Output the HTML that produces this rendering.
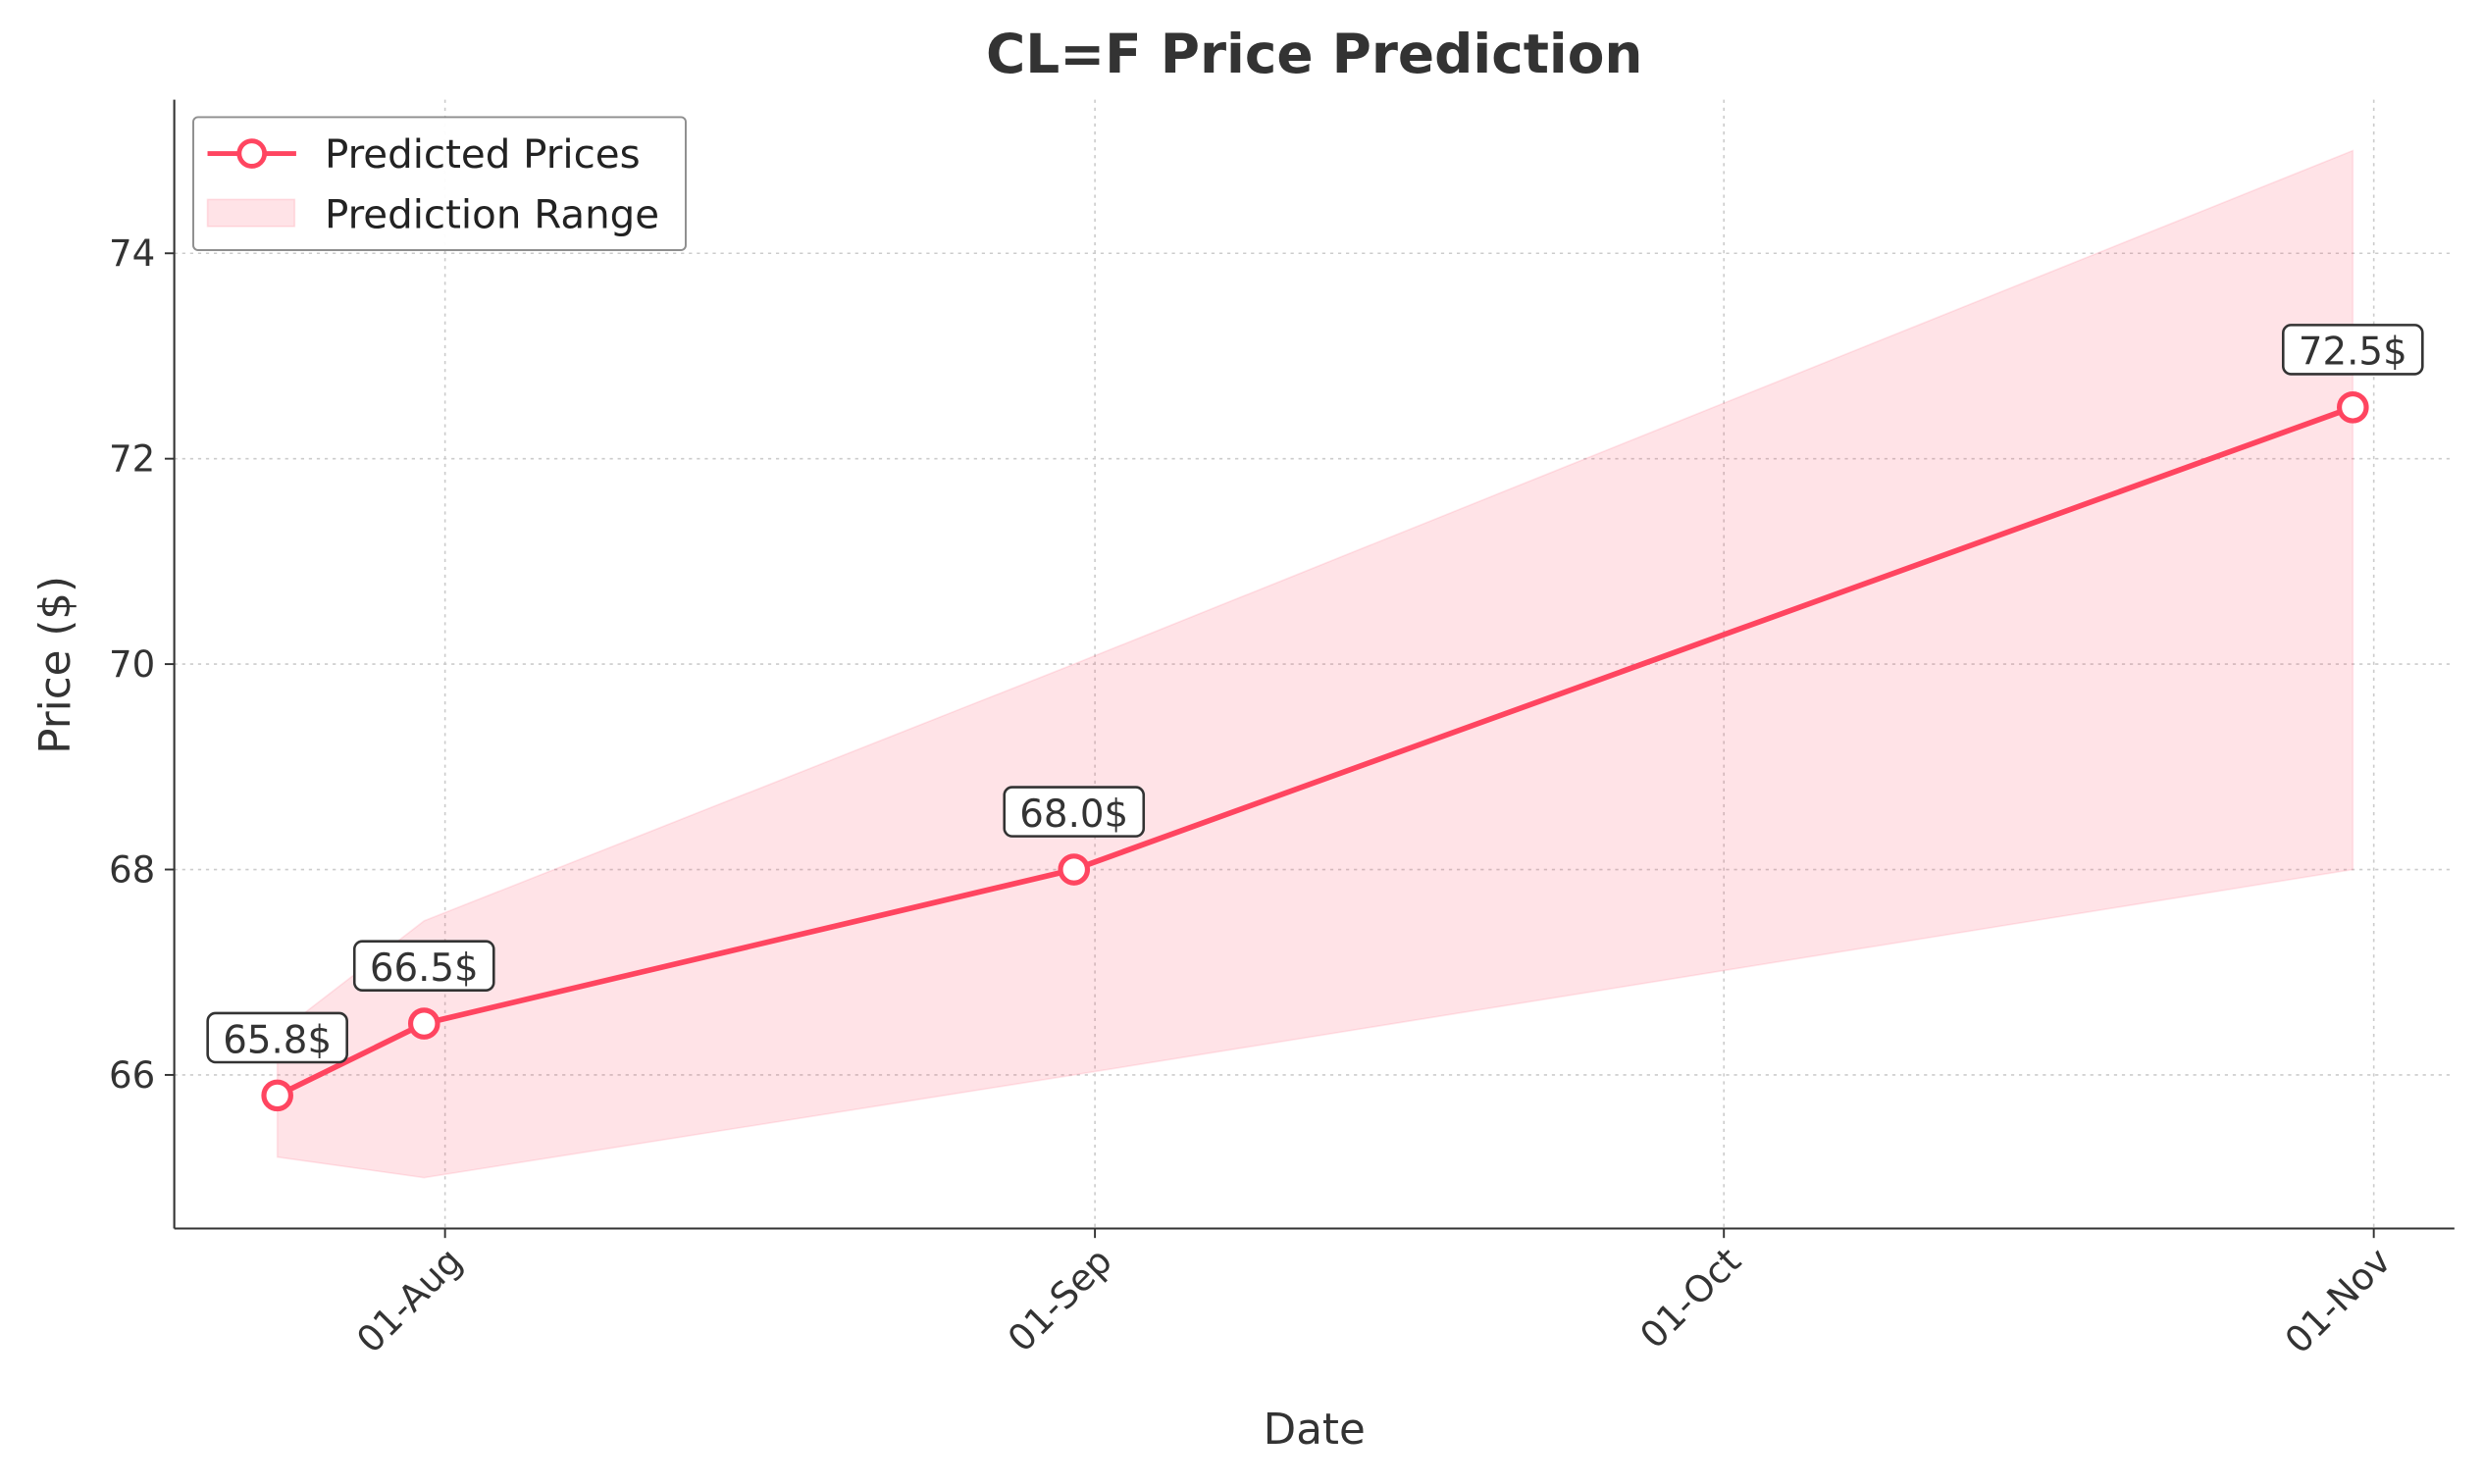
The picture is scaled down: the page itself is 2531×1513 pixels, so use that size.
<!DOCTYPE html>
<html><head><meta charset="utf-8"><style>
html,body{margin:0;padding:0;background:#fff;}
svg{display:block;font-family:"DejaVu Sans","Liberation Sans",sans-serif;}
</style></head><body>
<svg id="chart" width="2531" height="1513" viewBox="0 0 1568 937.4" xmlns="http://www.w3.org/2000/svg">
<rect width="1568" height="937.4" fill="#fff"/>
<text x="830" y="46" text-anchor="middle" font-size="34" font-weight="bold" fill="#333">CL=F Price Prediction</text>
<g id="grid"></g>
<g id="band"></g>
<g id="series"></g>
<g id="axes">
<line x1="110" y1="63" x2="110" y2="776" stroke="#333" stroke-width="1.3"/>
<line x1="110" y1="776" x2="1550" y2="776" stroke="#333" stroke-width="1.3"/>
</g>
<g id="ticks"></g>
<text x="830" y="912" text-anchor="middle" font-size="27" fill="#333">Date</text>
<text transform="translate(44,420) rotate(-90)" text-anchor="middle" font-size="27" fill="#333">Price ($)</text>
<g>
<rect x="122" y="74" width="311" height="84" rx="3" fill="#fff" stroke="#888" stroke-width="1.2" opacity="0.95"/>
<g>
<line x1="131" y1="97" x2="187" y2="97" stroke="#ff4560" stroke-width="3"/>
<circle cx="159" cy="97" r="8" fill="#fff" stroke="#ff4560" stroke-width="3"/>
<text x="205" y="106" font-size="25" fill="#222">Predicted Prices</text>
</g>
<g>
<rect x="131" y="126" width="55" height="17" fill="#ff4560" fill-opacity="0.15" stroke="#ff4560" stroke-opacity="0.15"/>
<text x="205" y="144" font-size="25" fill="#222">Prediction Range</text>
</g>
</g>
<g id="labels"></g>
</svg>
<script>
// day offsets from 01-Jul
const dates = [23, 30, 61, 122];
const predicted = [65.8, 66.5, 68.0, 72.5];
const lower = [65.2, 65.0, 66.0, 68.0];
const upper = [66.4, 67.5, 70.0, 75.0];
const yTicks = [66, 68, 70, 72, 74];
const xTickDays = [31, 62, 92, 123];
const xTickLabels = ["01-Aug", "01-Sep", "01-Oct", "01-Nov"];

const NS = "http://www.w3.org/2000/svg";
function xs(d){ return 281 + (d - 31) * 13.24; }
function ys(v){ return 679 - (v - 66) * 64.875; }
function mk(tag, attrs, parent){
  const e = document.createElementNS(NS, tag);
  for (const k in attrs) e.setAttribute(k, attrs[k]);
  parent.appendChild(e); return e;
}
const grid = document.getElementById('grid');
const ticks = document.getElementById('ticks');
yTicks.forEach(v=>{
  const g = mk('line',{x1:110,x2:1550,y1:ys(v),y2:ys(v),stroke:'#ccc','stroke-width':1,'stroke-dasharray':'2,3'},grid);
  
  
  mk('line',{x1:104,x2:110,y1:ys(v),y2:ys(v),stroke:'#333','stroke-width':1.2},ticks);
  const t = mk('text',{x:98,y:ys(v)+8,'text-anchor':'end','font-size':23,fill:'#333'},ticks);
  t.textContent = v;
  
  
});
xTickDays.forEach((d,i)=>{
  const x = xs(d);
  const g = mk('line',{x1:x,x2:x,y1:63,y2:776,stroke:'#ccc','stroke-width':1,'stroke-dasharray':'2,3'},grid);
  
  
  mk('line',{x1:x,x2:x,y1:776,y2:782,stroke:'#333','stroke-width':1.2},ticks);
  const t = mk('text',{transform:`translate(${x+12},${798}) rotate(-45)`,'text-anchor':'end','font-size':23,fill:'#333'},ticks);
  t.textContent = xTickLabels[i];
  
  
});
const band = document.getElementById('band');
let pts = dates.map((d,i)=>xs(d)+','+ys(upper[i]));
pts = pts.concat(dates.slice().reverse().map((d,j)=>{const i=dates.length-1-j;return xs(d)+','+ys(lower[i]);}));
const poly = mk('polygon',{points:pts.join(' '),fill:'#ff4560','fill-opacity':0.15,stroke:'#ff4560','stroke-opacity':0.12},band);


const series = document.getElementById('series');
const line = mk('polyline',{points:dates.map((d,i)=>xs(d)+','+ys(predicted[i])).join(' '),fill:'none',stroke:'#ff4560','stroke-width':3.5},series);


const labels = document.getElementById('labels');
dates.forEach((d,i)=>{
  const c = mk('circle',{cx:xs(d),cy:ys(predicted[i]),r:8.5,fill:'#fff',stroke:'#ff4560','stroke-width':3.2},series);
  
  
  const cx = xs(d), cy = ys(predicted[i]) - 36;
  const r = mk('rect',{x:cx-44,y:cy-16,width:88,height:31,rx:5,fill:'#fff',stroke:'#333','stroke-width':1.6},labels);
  
  
  const t = mk('text',{x:cx,y:cy+9,'text-anchor':'middle','font-size':24,fill:'#333'},labels);
  t.textContent = predicted[i].toFixed(1)+'$';
  
  
});
</script>
</body></html>
